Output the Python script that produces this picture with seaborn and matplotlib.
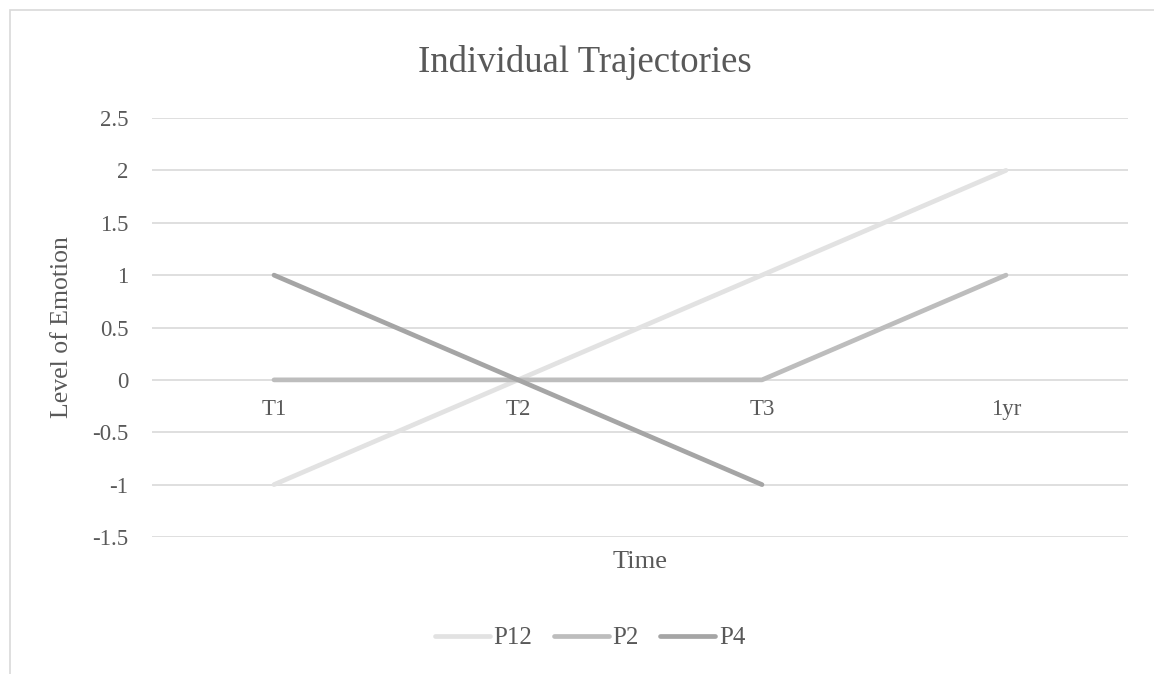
import matplotlib
matplotlib.use("Agg")
import matplotlib.pyplot as plt
import seaborn as sns
import pandas as pd
from matplotlib.patches import Rectangle
from matplotlib.lines import Line2D

categories = ["T1", "T2", "T3", "1yr"]
series_names = ["P12", "P2", "P4"]
p12 = [-1, 0, 1, 2]
p2 = [0, 0, 0, 1]
p4 = [1, 0, -1, None]
colors = ["#E2E2E2", "#BDBDBD", "#A5A5A5"]
y_ticks = [-1.5, -1, -0.5, 0, 0.5, 1, 1.5, 2, 2.5]
y_tick_labels = ["-1.5", "-1", "-0.5", "0", "0.5", "1", "1.5", "2", "2.5"]

rows = []
for name, vals in zip(series_names, [p12, p2, p4]):
    for i, v in enumerate(vals):
        if v is not None:
            rows.append({"pos": i, "value": v, "series": name})
df = pd.DataFrame(rows)

sns.set_theme(style="white")
plt.rcParams['font.family'] = ['Liberation Serif', 'DejaVu Serif']
text_color = "#595959"
grid_color = "#D9D9D9"

fig = plt.figure(figsize=(11.54, 6.74), dpi=100)
ax = fig.add_axes([152/1154, 1-537/674, (1128-152)/1154, (537-118)/674])

# border of chart area
fig.patches.append(Rectangle((10/1154, -0.1), 1.2, 1-10/674+0.1, transform=fig.transFigure,
                             fill=False, edgecolor=grid_color, linewidth=1.2, zorder=0))

for yt in y_ticks:
    ax.axhline(yt, color=grid_color, linewidth=1.2, zorder=0)

sns.lineplot(data=df, x="pos", y="value", hue="series", hue_order=series_names,
             palette=dict(zip(series_names, colors)), linewidth=3.4, ax=ax,
             legend=False, solid_capstyle="round", sort=False)

ax.set_xlim(-0.5, len(categories) - 0.5)
ax.set_ylim(-1.5, 2.5)
ax.set_yticks(y_ticks)
ax.set_yticklabels(y_tick_labels)
ax.set_xticks(range(len(categories)))
ax.set_xticklabels(categories)
for s in ax.spines.values():
    s.set_visible(False)
ax.spines['bottom'].set_position(('data', 0))
ax.tick_params(axis='both', length=0, labelsize=16.5, labelcolor=text_color)
ax.tick_params(axis='x', pad=14)
ax.tick_params(axis='y', pad=17)
for lab in ax.get_yticklabels():
    lab.set_horizontalalignment('right')

ax.set_xlabel("")
ax.set_ylabel("")
fig.text(62/1154, 1-327/674, "Level of Emotion", rotation=90, ha="center", va="center",
         fontsize=18.5, color=text_color)
fig.text(640/1154, 1-568/674, "Time", ha="center", va="baseline", fontsize=19, color=text_color)
fig.text(585/1154, 1-72/674, "Individual Trajectories", ha="center", va="baseline",
         fontsize=26.5, color=text_color)

handles = [Line2D([0], [0], color=c, linewidth=3.4, solid_capstyle="round") for c in colors]
fig.legend(handles, series_names, loc="center", bbox_to_anchor=(590/1154, 1-638/674),
           ncol=3, frameon=False, fontsize=18, labelcolor=text_color,
           handlelength=2.2, handletextpad=0.15, columnspacing=0.85)

fig.savefig("out.png", dpi=100)
